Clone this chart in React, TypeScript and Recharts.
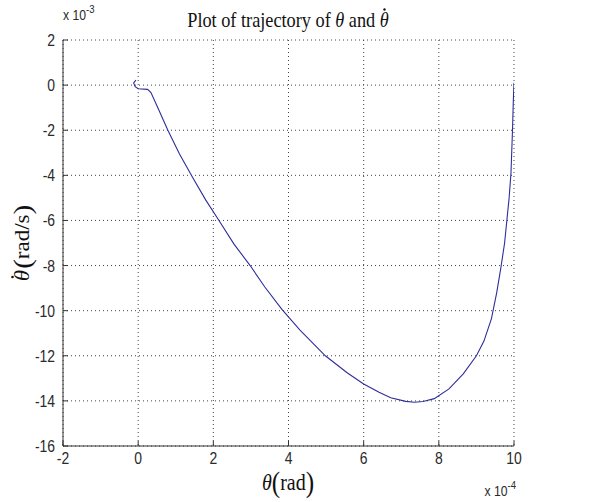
import React from 'react';
import { LineChart, Line, XAxis, YAxis, CartesianGrid } from 'recharts';

// Phase-plane trajectory: theta in units of 1e-4 rad, theta-dot in units of 1e-3 rad/s
const thetaVals = [
  -0.06, -0.12, -0.08, 0.0, 0.25, 0.34, 0.55, 0.79, 1.1, 1.45, 1.8, 2.15,
  2.55, 2.98, 3.37, 3.83, 4.3, 4.98, 5.56, 6.0, 6.41, 6.72, 7.12, 7.35,
  7.58, 7.88, 8.27, 8.65, 9.0, 9.2, 9.4, 9.54, 9.65, 9.75, 9.81, 9.87,
  9.92, 9.96, 9.98, 10.0,
];
const thetaDotVals = [
  0.22, 0.1, -0.07, -0.16, -0.19, -0.33, -1.1, -2.0, -3.05, -4.1, -5.1, -6.0,
  -7.05, -8.0, -8.95, -9.95, -10.85, -12.0, -12.75, -13.25, -13.62, -13.86, -14.02, -14.06,
  -14.03, -13.9, -13.47, -12.8, -12.0, -11.35, -10.35, -9.2, -8.1, -7.0, -6.0, -5.0,
  -3.9, -2.0, -0.8, 0.1,
];
const xTicks = [-2, 0, 2, 4, 6, 8, 10];
const yTicks = [2, 0, -2, -4, -6, -8, -10, -12, -14, -16];

const data = thetaVals.map((t, i) => ({ theta: t, thetaDot: thetaDotVals[i] }));

const W = 602;
const H = 502;
const AXIS = '#333333';
const TEXT = '#2a2a2a';
const TICK_FONT = 'Liberation Sans, Arial, sans-serif';
const SERIF = 'Liberation Serif, Times New Roman, serif';
const SQ = 0.87; // horizontal text compression

const XTick = (props: any) => {
  const { x, y, payload } = props;
  return (
    <g>
      <line x1={x} y1={y} x2={x} y2={y - 5} stroke={AXIS} strokeWidth={1} />
      <text
        transform={`translate(${x},${y + 18}) scale(${SQ},1)`}
        textAnchor="middle"
        fontFamily={TICK_FONT}
        fontSize={16}
        fill={TEXT}
      >
        {payload.value}
      </text>
    </g>
  );
};

const YTick = (props: any) => {
  const { x, y, payload } = props;
  return (
    <g>
      <line x1={x} y1={y} x2={x + 5} y2={y} stroke={AXIS} strokeWidth={1} />
      <text
        transform={`translate(${x - 8},${y + 6}) scale(${SQ},1)`}
        textAnchor="end"
        fontFamily={TICK_FONT}
        fontSize={16}
        fill={TEXT}
      >
        {payload.value}
      </text>
    </g>
  );
};

export default function App() {
  return (
    <div style={{ position: 'absolute', left: 0, top: 0, width: W, height: H, background: '#fff' }}>
      <LineChart
        width={W}
        height={H}
        data={data}
        margin={{ top: 40, right: 88, bottom: 0, left: 13 }}
      >
        <CartesianGrid stroke="#444" strokeDasharray="1 3" />
        <XAxis
          dataKey="theta"
          type="number"
          domain={[-2, 10]}
          ticks={xTicks}
          allowDataOverflow
          height={56}
          tickSize={0}
          tickMargin={0}
          tickLine={false}
          axisLine={{ stroke: AXIS }}
          tick={<XTick />}
          interval={0}
        />
        <YAxis
          type="number"
          domain={[-16, 2]}
          ticks={yTicks}
          allowDataOverflow
          width={50}
          tickSize={0}
          tickMargin={0}
          tickLine={false}
          axisLine={{ stroke: AXIS }}
          tick={<YTick />}
          interval={0}
        />
        <Line
          dataKey="thetaDot"
          type="linear"
          stroke="#2e2e9c"
          strokeWidth={1.1}
          dot={false}
          isAnimationActive={false}
        />
      </LineChart>
      <svg
        width={W}
        height={H}
        style={{ position: 'absolute', left: 0, top: 0, pointerEvents: 'none' }}
      >
        <text
          transform={`translate(288,27) scale(${SQ},1)`}
          textAnchor="middle"
          fontFamily={SERIF}
          fontSize={21}
          fill="#111"
        >
          Plot of trajectory of <tspan fontStyle="italic">θ</tspan> and{' '}
          <tspan fontStyle="italic">θ</tspan>
        </text>
        {/* time-derivative dot over the last theta of the title */}
        <circle cx={384.5} cy={9.5} r={1.2} fill="#111" />
        <text
          transform={`translate(63,20) scale(${SQ},1)`}
          fontFamily={TICK_FONT}
          fontSize={14}
          fill={TEXT}
        >
          x 10<tspan dy={-7} fontSize={11}>-3</tspan>
        </text>
        <text
          transform={`translate(516,496) scale(${SQ},1)`}
          textAnchor="end"
          fontFamily={TICK_FONT}
          fontSize={14}
          fill={TEXT}
        >
          x 10<tspan dy={-7} fontSize={11}>-4</tspan>
        </text>
        <text
          transform={`translate(288,490) scale(${SQ},1)`}
          textAnchor="middle"
          fontFamily={SERIF}
          fontSize={23}
          fill="#111"
        >
          <tspan fontStyle="italic">θ</tspan>
          <tspan fontSize={29} dy={2}>(</tspan>
          <tspan dy={-2}>rad</tspan>
          <tspan fontSize={29} dy={2}>)</tspan>
        </text>
        <text
          transform={`translate(29,243) scale(${SQ},1) rotate(-90)`}
          textAnchor="middle"
          fontFamily={SERIF}
          fontSize={23}
          fill="#111"
        >
          <tspan fontStyle="italic">θ</tspan>
          <tspan fontSize={29} dx={1} dy={2}>(</tspan>
          <tspan dy={-2}>rad/s</tspan>
          <tspan fontSize={29} dy={2}>)</tspan>
        </text>
        {/* time-derivative dot over the theta of the vertical label */}
        <circle cx={12.5} cy={277} r={1.3} fill="#111" />
      </svg>
    </div>
  );
}
